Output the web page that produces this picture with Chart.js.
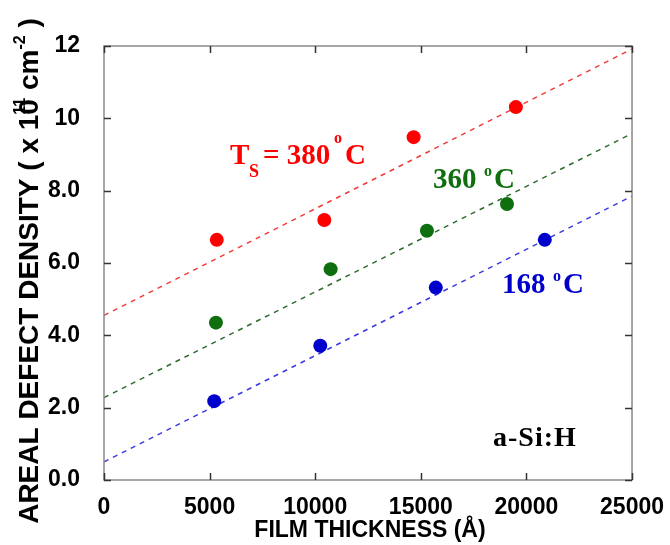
<!DOCTYPE html>
<html><head><meta charset="utf-8">
<script src="https://cdn.jsdelivr.net/npm/chart.js@4/dist/chart.umd.min.js"></script>
<style>html,body{margin:0;padding:0;background:#fff}#wrap{width:670px;height:545px;position:relative}</style>
</head><body><div id="wrap"><canvas id="c" width="670" height="545"></canvas></div>
<script>
// ---- data ----
const thickness380 = [5340, 10430, 14660, 19500];
const density380   = [6.64, 7.19, 9.48, 10.31];
const thickness360 = [5300, 10730, 15290, 19080];
const density360   = [4.35, 5.83, 6.89, 7.63];
const thickness168 = [5220, 10240, 15710, 20870];
const density168   = [2.18, 3.71, 5.32, 6.64];
const fitThickness = [0, 25000];
const fit380 = [4.55, 11.92];
const fit360 = [2.28, 9.58];
const fit168 = [0.50, 7.85];
const xTicks = [0, 5000, 10000, 15000, 20000, 25000];
const xTickLabels = ['0', '5000', '10000', '15000', '20000', '25000'];
const yTicks = [0, 2, 4, 6, 8, 10, 12];
const yTickLabels = ['0.0', '2.0', '4.0', '6.0', '8.0', '10', '12'];

const RED = '#ff0000', GREEN = '#0f6f0f', BLUE = '#0000cc';

function pts(xs, ys) { return xs.map((x, i) => ({ x: x, y: ys[i] })); }
function pointSet(label, xs, ys, color) {
  return { label, data: pts(xs, ys), backgroundColor: color, borderColor: color,
    pointRadius: 7, pointHoverRadius: 7, borderWidth: 0, showLine: false, order: 0 };
}
function fitSet(label, ys, color) {
  return { label, data: pts(fitThickness, ys), showLine: true, borderColor: color,
    borderWidth: 1.5, borderDash: [5, 5], pointRadius: 0, pointHoverRadius: 0,
    fill: false, order: 1 };
}

const SANS = '"Liberation Sans", Arial, Helvetica, sans-serif';
const SERIF = '"Liberation Serif", "Times New Roman", serif';

const decor = {
  id: 'decor',
  afterDraw(chart) {
    const ctx = chart.ctx, a = chart.chartArea;
    const xs = chart.scales.x, ys = chart.scales.y;
    ctx.save();
    // frame
    ctx.strokeStyle = '#8a8a8a';
    ctx.lineWidth = 1.5;
    ctx.strokeRect(a.left, a.top, a.right - a.left, a.bottom - a.top);
    // inward ticks
    ctx.strokeStyle = '#333';
    ctx.lineWidth = 1.5;
    ctx.beginPath();
    xTicks.forEach(v => {
      const px = Math.round(xs.getPixelForValue(v)) + 0.5;
      ctx.moveTo(px, a.bottom); ctx.lineTo(px, a.bottom - 7);
      ctx.moveTo(px, a.top); ctx.lineTo(px, a.top + 7);
    });
    yTicks.forEach(v => {
      const py = Math.round(ys.getPixelForValue(v)) + 0.5;
      ctx.moveTo(a.left, py); ctx.lineTo(a.left + 7, py);
      ctx.moveTo(a.right, py); ctx.lineTo(a.right - 7, py);
    });
    ctx.stroke();

    // x title
    ctx.fillStyle = '#000';
    ctx.font = 'bold 23px ' + SANS;
    ctx.textAlign = 'center';
    ctx.textBaseline = 'alphabetic';
    ctx.fillText('FILM THICKNESS (Å)', 370, 537);

    // y title (rotated, with superscripts)
    ctx.save();
    ctx.translate(38, 271);
    ctx.rotate(-Math.PI / 2);
    ctx.textAlign = 'left';
    const big = 'bold 28px ' + SANS, small = 'bold 16px ' + SANS;
    const segs = [
      { t: 'AREAL DEFECT DENSITY ( x 10', f: big, dy: 0 },
      { t: '11', f: small, dy: -13, back: true },
      { t: ' cm', f: big, dy: 0 },
      { t: '-2', f: small, dy: -13 },
      { t: ' )', f: big, dy: 0 }
    ];
    let total = 0;
    segs.forEach(s => { ctx.font = s.f; s.w = ctx.measureText(s.t).width; });
    ctx.font = big; const zeroW = ctx.measureText('0').width;
    segs.forEach(s => { total += s.w; if (s.back) total -= zeroW; });
    let x = -total / 2;
    segs.forEach(s => {
      ctx.font = s.f;
      if (s.back) x -= zeroW;
      ctx.fillText(s.t, x, s.dy);
      x += s.w;
    });
    ctx.restore();

    // temperature annotations
    function temp(parts, color) {
      ctx.fillStyle = color;
      ctx.textAlign = 'left';
      parts.forEach(p => {
        ctx.font = 'bold ' + p.s + 'px ' + SERIF;
        ctx.fillText(p.t, p.x, p.y);
      });
    }
    temp([
      { t: 'T', s: 29, x: 230, y: 164 },
      { t: 'S', s: 18, x: 249, y: 177 },
      { t: '= 380', s: 29, x: 263, y: 164 },
      { t: 'o', s: 16, x: 334, y: 143 },
      { t: 'C', s: 29, x: 345, y: 164 }
    ], RED);
    temp([
      { t: '360', s: 29, x: 433, y: 188 },
      { t: 'o', s: 16, x: 484, y: 176 },
      { t: 'C', s: 29, x: 494, y: 188 }
    ], GREEN);
    temp([
      { t: '168', s: 29, x: 502, y: 293 },
      { t: 'o', s: 16, x: 553, y: 281 },
      { t: 'C', s: 29, x: 563, y: 293 }
    ], BLUE);
    // material label
    ctx.fillStyle = '#000';
    ctx.font = 'bold 28px ' + SERIF;
    ctx.letterSpacing = '1px';
    ctx.fillText('a-Si:H', 493, 446);
    ctx.restore();
  }
};

new Chart(document.getElementById('c'), {
  type: 'scatter',
  data: {
    datasets: [
      pointSet('380 °C', thickness380, density380, RED),
      pointSet('360 °C', thickness360, density360, GREEN),
      pointSet('168 °C', thickness168, density168, BLUE),
      fitSet('380 °C fit', fit380, '#f23a3a'),
      fitSet('360 °C fit', fit360, '#2f6a2f'),
      fitSet('168 °C fit', fit168, '#3a3ae0')
    ]
  },
  options: {
    responsive: false,
    animation: false,
    events: [],
    layout: { padding: { top: 46, right: 34, left: 0, bottom: 0 } },
    plugins: { legend: { display: false }, tooltip: { enabled: false } },
    scales: {
      x: {
        type: 'linear', min: 0, max: 25000,
        grid: { display: false }, border: { display: false },
        afterBuildTicks: s => { s.ticks = xTicks.map(v => ({ value: v })); },
        afterFit: s => { s.height = 65; },
        ticks: {
          callback: (v, i) => xTickLabels[i],
          font: { family: SANS, weight: 'bold', size: 23 }, color: '#000',
          padding: 6, maxRotation: 0, autoSkip: false
        }
      },
      y: {
        type: 'linear', min: 0, max: 12,
        grid: { display: false }, border: { display: false },
        afterBuildTicks: s => { s.ticks = yTicks.map(v => ({ value: v })); },
        afterFit: s => { s.width = 104; },
        ticks: {
          callback: (v, i) => yTickLabels[i],
          font: { family: SANS, weight: 'bold', size: 23 }, color: '#000',
          padding: 16, autoSkip: false
        }
      }
    }
  },
  plugins: [decor]
});
</script>
</body></html>
